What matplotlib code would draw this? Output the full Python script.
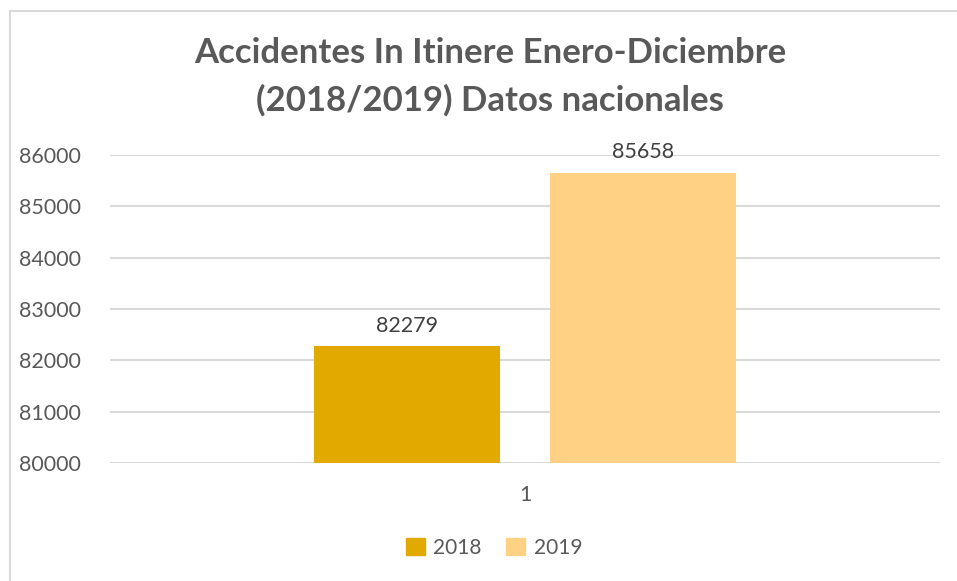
import matplotlib
matplotlib.use("Agg")
import matplotlib.pyplot as plt
from matplotlib.patches import Rectangle

categories = ["1"]
series_names = ["2018", "2019"]
values = [82279, 85658]
colors = ["#E2AA00", "#FED185"]
yticks = [80000, 81000, 82000, 83000, 84000, 85000, 86000]
title = "Accidentes In Itinere Enero-Diciembre\n(2018/2019) Datos nacionales"

plt.rcParams['font.family'] = ['Lato', 'DejaVu Sans']

W, H = 957, 581
fig = plt.figure(figsize=(W/100, H/100), dpi=100)
fig.patch.set_facecolor("white")

# chart frame
fig.add_artist(Rectangle((9.5/W, -0.1), 2.0, (H-10.5)/H + 0.1, transform=fig.transFigure,
                         fill=False, edgecolor="#D9D9D9", linewidth=1.5))

ax = fig.add_axes([110/W, 1-463/H, (940-110)/W, (463-155)/H])
ax.set_xlim(-0.5, 0.5)
ax.set_ylim(yticks[0], yticks[-1])

bw = 0.225
offsets = [-0.1422, 0.1422]
for name, v, c, off in zip(series_names, values, colors, offsets):
    ax.bar([0 + off], [v - yticks[0]], bottom=yticks[0], width=bw, color=c, label=name, zorder=3)
    ax.text(off, v + 200, f"{v}", ha="center", va="bottom", fontsize=15.5, color="#404040")

ax.set_yticks(yticks)
ax.set_yticklabels([str(t) for t in yticks], fontsize=15.5, color="#595959")
ax.set_xticks([0])
ax.set_xticklabels(categories, fontsize=15.5, color="#595959")
ax.tick_params(axis="both", length=0)
ax.tick_params(axis="y", pad=21)
ax.tick_params(axis="x", pad=16)
ax.grid(axis="y", color="#D9D9D9", linewidth=1.5, zorder=0)
for s in ax.spines.values():
    s.set_visible(False)

fig.text(490/W, 1-77/H, title, ha="center", va="center", fontsize=25, fontweight="bold",
         color="#595959", linespacing=1.55)

handles = [Rectangle((0, 0), 1, 1, color=c) for c in colors]
fig.legend(handles, series_names, loc="center", bbox_to_anchor=(494/W, 1-548/H), ncol=2,
           frameon=False, fontsize=15, handlelength=0.9, handleheight=0.9,
           handletextpad=0.4, columnspacing=1.2, labelcolor="#595959")

fig.savefig("out.png", dpi=100)
